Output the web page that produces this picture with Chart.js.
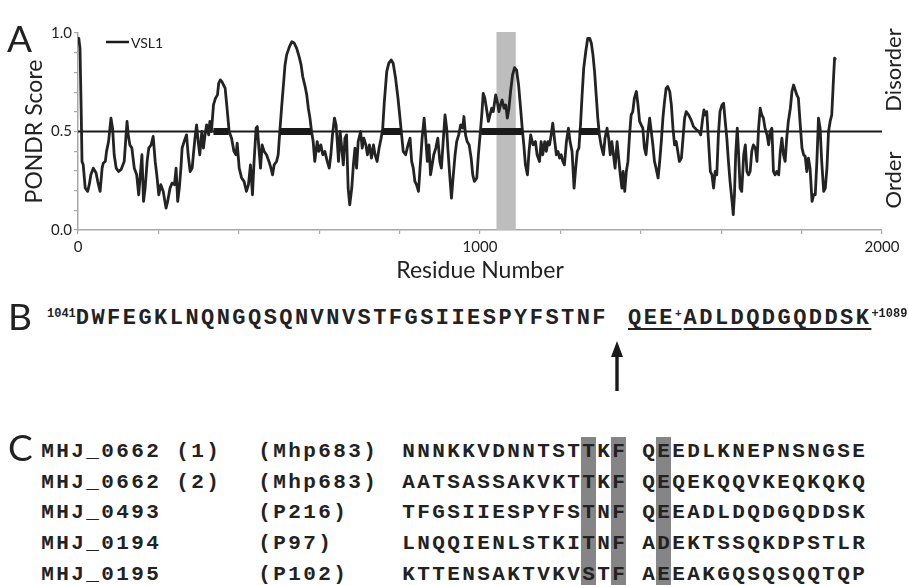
<!DOCTYPE html>
<html><head><meta charset="utf-8">
<script src="https://cdn.jsdelivr.net/npm/chart.js@4.4.1/dist/chart.umd.min.js"></script>
<style>
html,body{margin:0;padding:0;background:#fff;}
#wrap{position:relative;width:908px;height:585px;overflow:hidden;background:#fff;font-family:Lato,"Open Sans",sans-serif;color:#222;}
#c{position:absolute;left:0;top:0;}
.abs{position:absolute;white-space:pre;}
.panel{font-family:Lato,"Open Sans",sans-serif;font-size:37px;line-height:37px;color:#222;}
.side{font-family:Lato,"Open Sans",sans-serif;font-size:22px;line-height:22px;color:#222;transform:translate(-50%,-50%) rotate(-90deg);}
.mono{font-family:"Liberation Mono","DejaVu Sans Mono",monospace;font-weight:bold;color:#222;line-height:1;}
.gcol{position:absolute;background:#858585;}
</style></head>
<body><div id="wrap">
<canvas id="c" width="908" height="290"></canvas>
</div>
<script>
// ---------------- data ----------------
const residues = [
0,2,5,8,10,13,18,24,28,32,38,45,49,55,60,63,68,71,76,82,86,90,95,101,107,115,119,122,125,129,134,140,146,151,155,159,163,167,172,176,182,187,192,196,201,206,212,219,223,229,234,240,244,248,252,256,259,264,270,274,279,284,287,291,295,299,303,308,312,316,320,325,328,332,337,342,347,350,354,358,362,366,370,373,376,382,
388,393,396,401,407,413,419,424,429,434,438,443,446,450,454,458,463,469,475,480,484,488,494,498,502,507,511,515,519,526,532,538,544,550,555,559,565,569,573,577,581,585,589,595,599,604,609,614,620,625,629,633,638,642,645,648,652,656,660,664,668,672,676,681,685,689,693,697,703,707,711,716,720,725,730,735,739,744,749,754,758,762,
768,773,779,784,790,796,801,805,809,815,821,826,830,834,838,842,847,852,856,861,865,869,873,877,881,885,890,895,900,904,909,913,917,920,924,929,933,938,942,947,952,957,960,964,968,973,978,982,986,992,996,1001,1005,1008,1012,1016,1021,1025,1029,1033,1039,1043,1047,1051,1055,1060,1064,1068,1072,1076,1081,1086,1091,1096,1101,1105,1109,1113,1118,1122,1126,1132,1138,1142,
1148,1152,1156,1161,1165,1169,1173,1177,1181,1185,1190,1194,1198,1202,1206,1210,1215,1220,1224,1229,1234,1238,1242,1246,1250,1254,1258,1263,1268,1273,1277,1281,1285,1289,1293,1297,1301,1307,1311,1316,1320,1324,1328,1332,1336,1341,1345,1349,1353,1356,1360,1364,1368,1372,1376,1380,1384,1389,1393,1397,1401,1405,1409,1413,1418,1422,1426,1430,1434,1438,1443,1447,1451,1455,1459,1463,1467,1472,1476,1480,1484,1488,1492,1496,1501,1505,1509,1513,1519,1525,
1531,1535,1539,1545,1549,1554,1557,1560,1564,1568,1573,1577,1581,1585,1589,1593,1597,1602,1606,1610,1614,1618,1622,1627,1630,1633,1636,1640,1643,1647,1651,1656,1660,1664,1668,1672,1676,1680,1685,1689,1693,1697,1701,1705,1709,1714,1718,1722,1726,1730,1734,1738,1743,1747,1751,1755,1759,1763,1767,1772,1776,1780,1784,1788,1792,1796,1801,1805,1809,1813,1817,1821,1826,1830,1834,1838,1842,1846,1850,1855,1859,1863,1867,1871,1875,1879,1882,1885
];
const scores = [
0.97,0.973,0.922,0.60,0.348,0.331,0.213,0.196,0.23,0.28,0.314,0.289,0.247,0.196,0.314,0.34,0.348,0.399,0.449,0.568,0.517,0.382,0.314,0.297,0.306,0.348,0.466,0.551,0.483,0.432,0.416,0.314,0.28,0.179,0.28,0.382,0.145,0.213,0.348,0.416,0.432,0.475,0.348,0.28,0.179,0.23,0.196,0.111,0.145,0.213,0.238,0.23,0.314,0.145,0.213,0.314,0.416,0.449,0.483,0.382,0.297,0.314,0.382,0.466,0.534,0.449,0.382,0.5,0.416,0.483,0.534,0.483,0.551,0.5,0.635,0.669,0.686,0.745,0.762,0.753,0.736,0.72,0.635,0.568,0.5,0.466,
0.399,0.382,0.441,0.314,0.264,0.247,0.196,0.23,0.331,0.179,0.348,0.517,0.525,0.416,0.314,0.432,0.399,0.382,0.348,0.314,0.28,0.331,0.348,0.382,0.5,0.635,0.736,0.838,0.889,0.931,0.956,0.948,0.922,0.88,0.838,0.779,0.728,0.686,0.618,0.568,0.5,0.449,0.348,0.449,0.399,0.432,0.382,0.399,0.348,0.314,0.382,0.483,0.568,0.534,0.449,0.348,0.5,0.416,0.331,0.466,0.483,0.213,0.128,0.213,0.331,0.416,0.314,0.449,0.5,0.416,0.466,0.432,0.382,0.432,0.365,0.432,0.382,0.348,0.416,0.466,0.517,0.65,
0.804,0.846,0.863,0.846,0.77,0.669,0.568,0.483,0.399,0.382,0.432,0.466,0.348,0.314,0.247,0.23,0.196,0.348,0.466,0.568,0.466,0.348,0.432,0.28,0.331,0.382,0.416,0.466,0.348,0.314,0.466,0.584,0.517,0.416,0.297,0.162,0.264,0.382,0.449,0.483,0.534,0.517,0.576,0.483,0.449,0.432,0.365,0.28,0.247,0.264,0.382,0.5,0.601,0.694,0.669,0.618,0.551,0.584,0.618,0.601,0.686,0.652,0.601,0.635,0.66,0.618,0.635,0.568,0.618,0.703,0.787,0.824,0.812,0.736,0.618,0.517,0.432,0.331,0.28,0.399,0.483,0.432,0.449,0.382,
0.348,0.449,0.382,0.449,0.399,0.449,0.432,0.483,0.542,0.466,0.382,0.399,0.365,0.382,0.348,0.331,0.449,0.517,0.449,0.399,0.213,0.314,0.399,0.416,0.534,0.686,0.821,0.905,0.973,0.973,0.948,0.889,0.804,0.686,0.568,0.483,0.432,0.382,0.466,0.517,0.466,0.382,0.449,0.382,0.314,0.449,0.365,0.28,0.213,0.297,0.196,0.297,0.348,0.483,0.584,0.601,0.669,0.703,0.635,0.551,0.534,0.517,0.416,0.382,0.5,0.568,0.5,0.432,0.348,0.314,0.264,0.348,0.449,0.568,0.652,0.72,0.728,0.703,0.635,0.517,0.432,0.449,0.399,0.348,0.365,0.466,0.568,0.601,0.584,0.559,
0.525,0.517,0.508,0.5,0.483,0.568,0.61,0.584,0.601,0.466,0.297,0.28,0.213,0.297,0.28,0.483,0.601,0.635,0.643,0.551,0.466,0.348,0.247,0.145,0.078,0.179,0.382,0.517,0.399,0.213,0.196,0.382,0.432,0.297,0.28,0.297,0.399,0.432,0.416,0.348,0.517,0.618,0.584,0.568,0.517,0.483,0.432,0.5,0.517,0.297,0.28,0.297,0.28,0.399,0.466,0.382,0.348,0.466,0.551,0.618,0.703,0.736,0.711,0.686,0.669,0.551,0.416,0.382,0.373,0.297,0.365,0.314,0.145,0.179,0.179,0.348,0.568,0.517,0.348,0.196,0.213,0.314,0.5,0.551,0.584,0.753,0.872,0.864
];
const threshold = 0.5;
const ldrStarts = [337, 502, 756, 1003, 1246];
const ldrEnds   = [375, 580, 804, 1107, 1294];
const highlightRange = [1041, 1089];
const xLabelValues = [0, 1000, 2000];
const yLabelValues = [0.0, 0.5, 1.0];
const seriesName = 'VSL1';

// panel B
const motifStartNum = '1041';
const motifEndNum = '+1089';
const motifLeft = 'DWFEGKLNQNGQSQNVNVSTFGSIIESPYFSTNF';
const motifRightA = 'QEE';
const motifRightB = 'ADLDQDGQDDSK';

// panel C
const locusTags = ['MHJ_0662 (1)','MHJ_0662 (2)','MHJ_0493','MHJ_0194','MHJ_0195'];
const proteinNames = ['(Mhp683)','(Mhp683)','(P216)','(P97)','(P102)'];
const alignSeqs = [
 'NNNKKVDNNTSTTKF QEEDLKNEPNSNGSE',
 'AATSASSAKVKTTKF QEQEKQQVKEQKQKQ',
 'TFGSIIESPYFSTNF QEEADLDQDGQDDSK',
 'LNQQIENLSTKITNF ADEKTSSQKDPSTLR',
 'KTTENSAKTVKVSTF AEEAKGQSQSQQTQP'
];
const highlightCols = [12, 14, 17];

// ---------------- chart ----------------
const ldrData = [];
ldrStarts.forEach((s, i) => {
  ldrData.push({x: s, y: threshold}, {x: ldrEnds[i], y: threshold});
  ldrData.push({x: ldrEnds[i] + 1, y: null});
});

const highlightPlugin = {
  id: 'highlight',
  beforeDatasetsDraw(chart) {
    const {ctx, chartArea, scales: {x, y}} = chart;
    const x0 = x.getPixelForValue(highlightRange[0]);
    const x1 = x.getPixelForValue(highlightRange[1]);
    const yTop = y.getPixelForValue(1.0) - 1;
    ctx.save();
    ctx.fillStyle = '#bdbdbd';
    ctx.fillRect(x0, yTop, x1 - x0, chartArea.bottom - yTop);
    ctx.restore();
  }
};
const legendPlugin = {
  id: 'inlineLegend',
  afterDraw(chart) {
    const {ctx, chartArea} = chart;
    const lx = chartArea.left + 28, ly = chartArea.top + 9;
    ctx.save();
    ctx.strokeStyle = '#1a1a1a';
    ctx.lineWidth = 2.5;
    ctx.beginPath(); ctx.moveTo(lx, ly); ctx.lineTo(lx + 23, ly); ctx.stroke();
    ctx.fillStyle = '#222';
    ctx.font = '14px Lato, "Open Sans", sans-serif';
    ctx.textBaseline = 'middle';
    ctx.fillText(seriesName, lx + 25, ly + 1);
    ctx.restore();
  }
};

const axisFont = {family: 'Lato, "Open Sans", sans-serif', size: 15};
new Chart(document.getElementById('c'), {
  type: 'line',
  data: { datasets: [
    {label: 'LDR', data: ldrData, borderColor: '#1a1a1a', borderWidth: 7, pointRadius: 0, spanGaps: false, borderCapStyle: 'butt'},
    {label: seriesName, data: residues.map((r, i) => ({x: r, y: scores[i]})), borderColor: '#232323', borderWidth: 2.8, pointRadius: 0, tension: 0, borderJoinStyle: 'round'},
    {label: 'threshold', data: [{x: 0, y: threshold}, {x: 2000, y: threshold}], borderColor: '#1a1a1a', borderWidth: 1.8, pointRadius: 0}
  ]},
  options: {
    animation: false, responsive: false, devicePixelRatio: 1,
    layout: {padding: {top: 33, right: 26, left: 0, bottom: 0}},
    plugins: {legend: {display: false}, tooltip: {enabled: false}},
    scales: {
      x: {
        type: 'linear', min: 0, max: 2000,
        ticks: {stepSize: 200, autoSkip: false, maxRotation: 0, padding: 4, color: '#222', font: axisFont,
          callback: v => xLabelValues.includes(v) ? String(v) : ''},
        grid: {drawOnChartArea: false, drawTicks: true, tickLength: 4, color: '#a8a8a8', lineWidth: 1.2},
        border: {color: '#a8a8a8', width: 1.5},
        title: {display: true, text: 'Residue Number', color: '#222', font: {family: 'Lato, "Open Sans", sans-serif', size: 23}, padding: {top: 0, bottom: 6}},
        afterFit: s => { s.height = 60; }
      },
      y: {
        min: 0, max: 1,
        ticks: {stepSize: 0.1, autoSkip: false, padding: 2, color: '#222', font: axisFont,
          callback: v => yLabelValues.some(t => Math.abs(t - v) < 1e-6) ? v.toFixed(1) : ''},
        grid: {drawOnChartArea: false, drawTicks: true, tickLength: 4, color: '#a8a8a8', lineWidth: 1.2},
        border: {color: '#a8a8a8', width: 1.5},
        title: {display: true, text: 'PONDR Score', color: '#222', font: {family: 'Lato, "Open Sans", sans-serif', size: 23}, padding: {top: 21, bottom: 0}},
        afterFit: s => { s.width = 78; }
      }
    }
  },
  plugins: [highlightPlugin, legendPlugin]
});

// ---------------- text panels ----------------
const wrap = document.getElementById('wrap');
function el(tag, cls, css, text) {
  const e = document.createElement(tag);
  if (cls) e.className = cls;
  Object.assign(e.style, css);
  if (text !== undefined) e.textContent = text;
  wrap.appendChild(e);
  return e;
}
// panel letters
el('div', 'abs panel', {left: '7px', top: '19px'}, 'A');
el('div', 'abs panel', {left: '8px', top: '297px'}, 'B');
el('div', 'abs panel', {left: '8px', top: '428px'}, 'C');
// side labels
el('div', 'abs side', {left: '893px', top: '70px'}, 'Disorder');
el('div', 'abs side', {left: '893px', top: '180px'}, 'Order');

// panel B
const bSize = 22, bSpacing = 2.45;
const bLine = el('div', 'abs mono', {left: '47px', top: (318 - 0.4365 * bSize) + 'px', fontSize: bSize + 'px'});
function span(parent, css, text) { const s = document.createElement('span'); Object.assign(s.style, css); s.textContent = text; parent.appendChild(s); return s; }
span(bLine, {fontSize: '12px', position: 'relative', top: '-7px', letterSpacing: '0px'}, motifStartNum);
span(bLine, {letterSpacing: bSpacing + 'px'}, motifLeft);
const ul = span(bLine, {marginLeft: '20px', textDecoration: 'underline', textDecorationThickness: '2px', textUnderlineOffset: '4px'}, '');
span(ul, {letterSpacing: bSpacing + 'px'}, motifRightA);
span(ul, {fontSize: '11px', position: 'relative', top: '-7px'}, '+');
span(ul, {letterSpacing: bSpacing + 'px', marginLeft: '2px'}, motifRightB);
span(bLine, {fontSize: '12px', position: 'relative', top: '-7px'}, motifEndNum);

// arrow (panel B)
const svgNS = 'http://www.w3.org/2000/svg';
const svg = document.createElementNS(svgNS, 'svg');
svg.setAttribute('width', '20'); svg.setAttribute('height', '60');
Object.assign(svg.style, {position: 'absolute', left: '607px', top: '338px'});
const head = document.createElementNS(svgNS, 'polygon');
head.setAttribute('points', '10,3 4,19 16,19'); head.setAttribute('fill', '#1a1a1a');
const shaft = document.createElementNS(svgNS, 'rect');
shaft.setAttribute('x', '8.3'); shaft.setAttribute('y', '17'); shaft.setAttribute('width', '3.4'); shaft.setAttribute('height', '36'); shaft.setAttribute('fill', '#1a1a1a');
svg.appendChild(head); svg.appendChild(shaft); wrap.appendChild(svg);

// panel C
const cSize = 21, cSpacing = 2.4, cAdv = cSize * 0.6 + cSpacing;
const labelX = 40, protX = 257, seqX = 401;
const rowY0 = 450, rowGap = 30.8;
highlightCols.forEach(ci => {
  el('div', 'gcol', {left: (seqX + ci * cAdv) + 'px', top: '437px', width: (cAdv - 0.5) + 'px', height: '150px'});
});
locusTags.forEach((tag, i) => {
  const top = (rowY0 + i * rowGap - 0.4365 * cSize) + 'px';
  const base = {top, fontSize: cSize + 'px', letterSpacing: cSpacing + 'px'};
  el('div', 'abs mono', Object.assign({left: (labelX + cSpacing / 2) + 'px'}, base), tag);
  el('div', 'abs mono', Object.assign({left: (protX + cSpacing / 2) + 'px'}, base), proteinNames[i]);
  el('div', 'abs mono', Object.assign({left: (seqX + cSpacing / 2) + 'px'}, base), alignSeqs[i]);
});
</script>
</body></html>
